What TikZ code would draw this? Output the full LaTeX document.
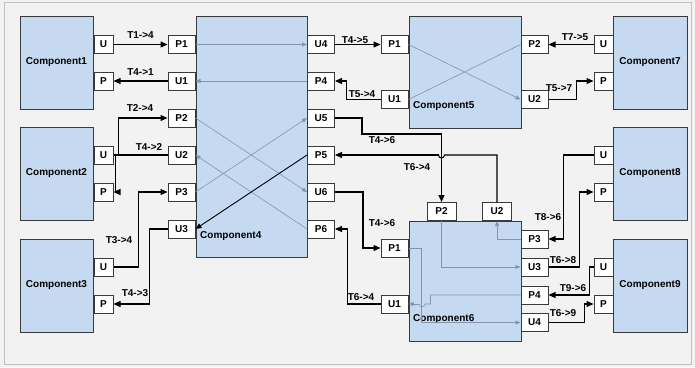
\documentclass[tikz,border=0pt]{standalone}
\usepackage{fontspec}
\setmainfont{Liberation Sans}
\usetikzlibrary{arrows.meta}
\definecolor{bgc}{HTML}{F2F2F2}
\definecolor{framec}{HTML}{C0C0C0}
\definecolor{compblue}{HTML}{C5D9F1}
\definecolor{edgec}{HTML}{3A3A3A}
\definecolor{innerc}{HTML}{8294B0}
\tikzset{
  comp/.style={draw=edgec, fill=compblue, line width=1pt, font=\bfseries\fontsize{10}{12}\selectfont, inner sep=0pt},
  port/.style={draw=edgec, fill=white, line width=1pt, font=\bfseries\fontsize{10}{12}\selectfont, inner sep=0pt, minimum width=27pt, minimum height=18pt},
  sport/.style={port, minimum width=19pt},
  conn/.style={draw=black, line width=1.1pt, -{Triangle[length=7pt,width=6pt]}},
  plainconn/.style={draw=black, line width=1.1pt},
  inner/.style={draw=innerc, line width=0.6pt, -{Triangle[length=5pt,width=4pt]}},
  innerplain/.style={draw=innerc, line width=0.6pt},
  innerdark/.style={draw=black, line width=0.9pt, -{Triangle[length=6pt,width=5pt]}},
  lbl/.style={font=\bfseries\fontsize{10}{12}\selectfont, inner sep=0pt},
  cname/.style={font=\bfseries\fontsize{10}{12}\selectfont, inner sep=0pt, anchor=west}
}
\begin{document}
\begin{tikzpicture}[x=1pt,y=-1pt]
\useasboundingbox (0,0) rectangle (695,367);
\fill[bgc] (0,0) rectangle (695,367);
\draw[framec, line width=1pt] (4,2) rectangle (691,364);

% components
\node[comp, minimum width=73pt, minimum height=93pt] (c1) at (56.5,62.5) {Component1};
\node[comp, minimum width=73pt, minimum height=93pt] (c2) at (56.5,173.5) {Component2};
\node[comp, minimum width=73pt, minimum height=93pt] (c3) at (56.5,285.5) {Component3};
\node[comp, minimum width=111pt, minimum height=241pt] (c4) at (251.5,136.5) {};
\node[comp, minimum width=112pt, minimum height=112pt] (c5) at (465,72) {};
\node[comp, minimum width=112pt, minimum height=120pt] (c6) at (465,281) {};
\node[comp, minimum width=74pt, minimum height=93pt] (c7) at (650,62.5) {Component7};
\node[comp, minimum width=74pt, minimum height=93pt] (c8) at (650,173.5) {Component8};
\node[comp, minimum width=74pt, minimum height=93pt] (c9) at (650,285.5) {Component9};

% ports
\node[sport] (c1u) at (103.5,44.5) {U};
\node[sport] (c1p) at (103.5,81) {P};
\node[sport] (c2u) at (103.5,155) {U};
\node[sport] (c2p) at (103.5,192) {P};
\node[sport] (c3u) at (103.5,267) {U};
\node[sport] (c3p) at (103.5,304) {P};

\node[port] (c4p1) at (181.5,44.5) {P1};
\node[port] (c4u1) at (181.5,81) {U1};
\node[port] (c4p2) at (181.5,118) {P2};
\node[port] (c4u2) at (181.5,155) {U2};
\node[port] (c4p3) at (181.5,192) {P3};
\node[port] (c4u3) at (181.5,229) {U3};
\node[port] (c4u4) at (321,44.5) {U4};
\node[port] (c4p4) at (321,81) {P4};
\node[port] (c4u5) at (321,118) {U5};
\node[port] (c4p5) at (321,155) {P5};
\node[port] (c4u6) at (321,192) {U6};
\node[port] (c4p6) at (321,229) {P6};

\node[port] (c5p1) at (394.5,44.5) {P1};
\node[port] (c5u1) at (394.5,99.5) {U1};
\node[port] (c5p2) at (534.5,44.5) {P2};
\node[port] (c5u2) at (534.5,99.5) {U2};

\node[port, minimum width=29pt] (c6p2) at (441.5,211.5) {P2};
\node[port, minimum width=29pt] (c6u2) at (497,211.5) {U2};
\node[port] (c6p1) at (394.5,248) {P1};
\node[port] (c6u1) at (394.5,304) {U1};
\node[port] (c6p3) at (534.5,239) {P3};
\node[port] (c6u3) at (534.5,267) {U3};
\node[port] (c6p4) at (534.5,295) {P4};
\node[port] (c6u4) at (534.5,322.5) {U4};

\node[sport] (c7u) at (603.5,44.5) {U};
\node[sport] (c7p) at (603.5,81) {P};
\node[sport] (c8u) at (603.5,155) {U};
\node[sport] (c8p) at (603.5,192) {P};
\node[sport] (c9u) at (603.5,267) {U};
\node[sport] (c9p) at (603.5,304) {P};

% component names (inside big blocks)
\node[cname] (n4) at (200,236) {Component4};
\node[cname] (n5) at (413,106) {Component5};
\node[cname] (n6) at (413,319) {Component6};

% internal lines component4
\draw[inner] (c4p1.east) -- (c4u4.west);
\draw[inner] (c4p4.west) -- (c4u1.east);
\draw[inner] (c4p2.east) -- (c4u6.west);
\draw[inner] (c4p3.east) -- (c4u5.west);
\draw[inner] (c4p6.west) -- (c4u2.east);
\draw[innerdark] (c4p5.west) -- (c4u3.east);

% internal lines component5
\draw[inner] (c5p1.east) -- (c5u2.west);
\draw[innerplain] (c5u1.east) -- (c5p2.west);

% internal lines component6
\draw[inner] (c6p2.south) |- (c6u3.west);
\draw[inner] (c6p3.west) -| (c6u2.south);
\draw[inner] (c6p1.east) -- ++(13,0) |- (c6u4.west);
\coordinate (h6) at (422,304);
\draw[innerplain] (c6p4.west) -- ++(-90,0) |- ([xshift=3pt]h6) arc[start angle=0,end angle=-180,radius=3pt];
\draw[inner] ([xshift=-3pt]h6) -- (c6u1.east);

% connectors
\draw[conn] (c1u.east) -- node[lbl, above=5pt] (t14) {T1->4} (c4p1.west);
\draw[conn] (c4u1.west) -- node[lbl, above=5pt] (t41) {T4->1} (c1p.east);
\draw[conn] (c2u.east) -- ++(5,0) |- (c4p2.west);
\node[lbl] (t24) at (140,108) {T2->4};
\draw[conn] (c4u2.west) -- ++(-52,0) |- (c2p.east);
\node[lbl] (t42) at (149,147) {T4->2};
\draw[conn] (c3u.east) -- ++(25,0) |- (c4p3.west);
\node[lbl] (t34) at (119,240) {T3->4};
\draw[conn] (c4u3.west) -- ++(-18,0) |- (c3p.east);
\node[lbl] (t43) at (135,293) {T4->3};

\draw[conn] (c4u4.east) -- (c5p1.west);
\node[lbl] (t45) at (355,40) {T4->5};
\draw[conn] (c5u1.west) -- ++(-34,0) |- (c4p4.east);
\node[lbl] (t54) at (362,94) {T5->4};

\draw[conn] (c4u5.east) -| ++(27,16) -| (c6p2.north);
\node[lbl] (t46a) at (382,140) {T4->6};
\coordinate (hop) at (c6p2.north |- c4p5.east);
\draw[plainconn] (c6u2.north) |- ([xshift=3pt]hop) arc[start angle=0,end angle=-180,radius=3pt];
\draw[conn] ([xshift=-3pt]hop) -- (c4p5.east);
\node[lbl] (t64a) at (417,167) {T6->4};

\draw[conn] (c4u6.east) -- ++(28,0) |- (c6p1.west);
\node[lbl] (t46b) at (382,223) {T4->6};
\draw[conn] (c6u1.west) -- ++(-33,0) |- (c4p6.east);
\node[lbl] (t64b) at (361,297) {T6->4};

\draw[conn] (c7u.west) -- (c5p2.east);
\node[lbl] (t75) at (575,37) {T7->5};
\draw[conn] (c5u2.east) -- ++(28,0) |- (c7p.west);
\node[lbl] (t57) at (559,88) {T5->7};

\draw[conn] (c8u.west) -- ++(-30,0) |- (c6p3.east);
\node[lbl] (t86) at (548,217) {T8->6};
\draw[conn] (c6u3.east) -- ++(31,0) |- (c8p.west);
\node[lbl] (t68) at (563,260) {T6->8};
\draw[conn] (c9u.west) -- ++(-4,0) |- (c6p4.east);
\node[lbl] (t96) at (573,288) {T9->6};
\draw[conn] (c6u4.east) -- ++(36,0) |- (c9p.west);
\node[lbl] (t69) at (563,313) {T6->9};
\end{tikzpicture}
\end{document}
